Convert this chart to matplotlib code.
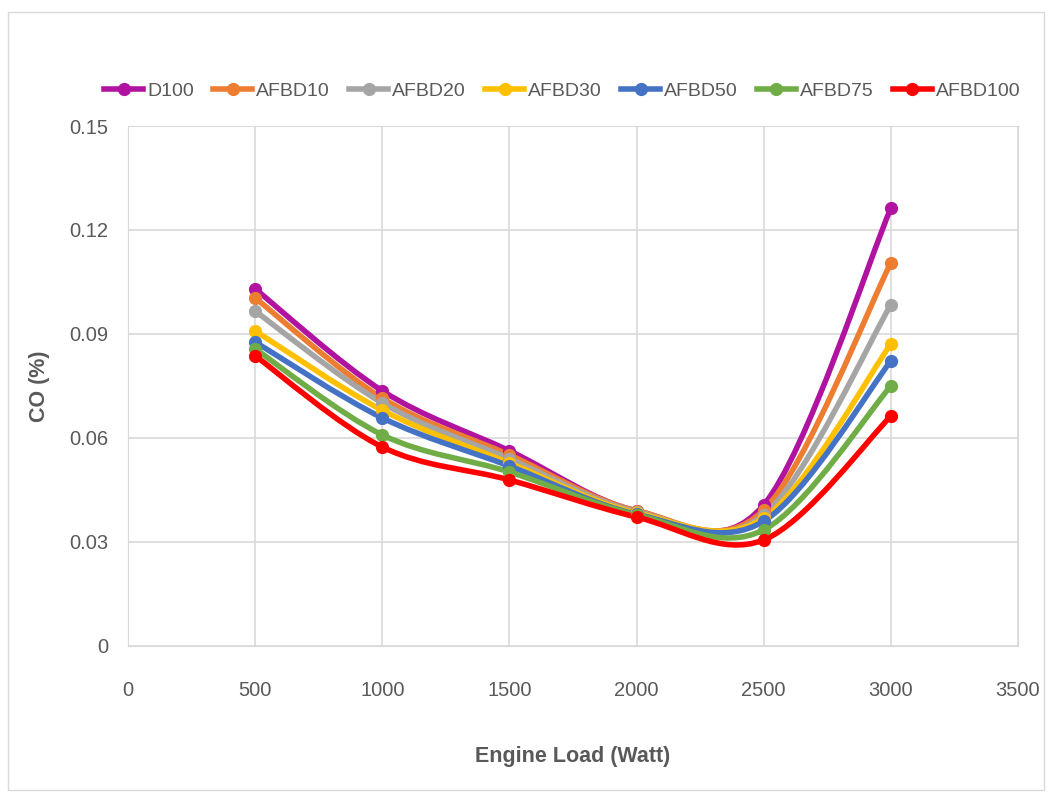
import numpy as np
import matplotlib.pyplot as plt
from matplotlib.path import Path
from matplotlib.patches import PathPatch, Rectangle
from matplotlib.lines import Line2D

# Engine load (Watt) and CO (%) readings per fuel blend
load = [500, 1000, 1500, 2000, 2500, 3000]
d100 = [0.1030, 0.0736, 0.0563, 0.0390, 0.0407, 0.1263]
afbd10 = [0.1004, 0.0715, 0.0551, 0.0390, 0.0392, 0.1105]
afbd20 = [0.0966, 0.0701, 0.0540, 0.0387, 0.0378, 0.0984]
afbd30 = [0.0909, 0.0680, 0.0528, 0.0384, 0.0369, 0.0871]
afbd50 = [0.0877, 0.0658, 0.0519, 0.0380, 0.0360, 0.0822]
afbd75 = [0.0857, 0.0609, 0.0502, 0.0378, 0.0335, 0.0750]
afbd100 = [0.0837, 0.0574, 0.0479, 0.0372, 0.0306, 0.0663]

series_names = ["D100", "AFBD10", "AFBD20", "AFBD30", "AFBD50", "AFBD75", "AFBD100"]
series_values = [d100, afbd10, afbd20, afbd30, afbd50, afbd75, afbd100]
colors = ["#B0139F", "#ED7D31", "#A5A5A5", "#FFC000", "#4472C4", "#70AD47", "#FF0000"]

plt.rcParams["font.family"] = ["Liberation Sans", "DejaVu Sans"]
TXT = "#595959"


def smooth_path(xs, ys):
    # Excel-style smoothed line: cubic bezier through every point
    pts = np.column_stack([xs, ys]).astype(float)
    ext = np.vstack([pts[0], pts, pts[-1]])
    verts = [tuple(pts[0])]
    codes = [Path.MOVETO]
    for i in range(1, len(ext) - 2):
        p0, p1, p2, p3 = ext[i - 1], ext[i], ext[i + 1], ext[i + 2]
        c1 = p1 + (p2 - p0) / 6
        c2 = p2 - (p3 - p1) / 6
        verts += [tuple(c1), tuple(c2), tuple(p2)]
        codes += [Path.CURVE4] * 3
    return Path(verts, codes)


fig = plt.figure(figsize=(10.51, 7.98), dpi=100)
fig.patches.append(Rectangle((8 / 1051, 8 / 798), 1036 / 1051, 778 / 798,
                             transform=fig.transFigure, fill=False,
                             edgecolor="#D9D9D9", lw=1))
ax = fig.add_axes([0.1218, 0.1905, 0.8468, 0.6516])

for name, vals, c in zip(series_names, series_values, colors):
    ax.add_patch(PathPatch(smooth_path(load, vals), fill=False, edgecolor=c,
                           lw=4.0, capstyle="round", joinstyle="round", zorder=3))
    ax.plot(load, vals, "o", color=c, ms=8.5, zorder=4)

ax.set_xlim(0, 3500)
ax.set_ylim(0, 0.15)
ax.set_xticks(np.arange(0, 3501, 500))
ax.set_yticks([0, 0.03, 0.06, 0.09, 0.12, 0.15])
ax.set_yticklabels(["0", "0.03", "0.06", "0.09", "0.12", "0.15"])
ax.grid(True, color="#D9D9D9", lw=1.2)
ax.set_axisbelow(True)
for s in ax.spines.values():
    s.set_color("#D9D9D9")
ax.tick_params(length=0, labelsize=14.5, colors=TXT)
ax.tick_params(axis="x", pad=25)
ax.tick_params(axis="y", pad=14)
ax.set_xlabel("Engine Load (Watt)", fontsize=15.5, fontweight="bold", color=TXT, labelpad=33)
ax.set_ylabel("CO (%)", fontsize=15.5, fontweight="bold", color=TXT, labelpad=14)

handles = [Line2D([], [], color=c, lw=4.0, marker="o", ms=8.5) for c in colors]
fig.legend(handles, series_names, loc="center", bbox_to_anchor=(0.535, 0.886),
           ncol=7, frameon=False, fontsize=14, labelcolor=TXT,
           handlelength=2.0, handletextpad=0.2, columnspacing=1.0)

fig.savefig("out.png", dpi=100)
